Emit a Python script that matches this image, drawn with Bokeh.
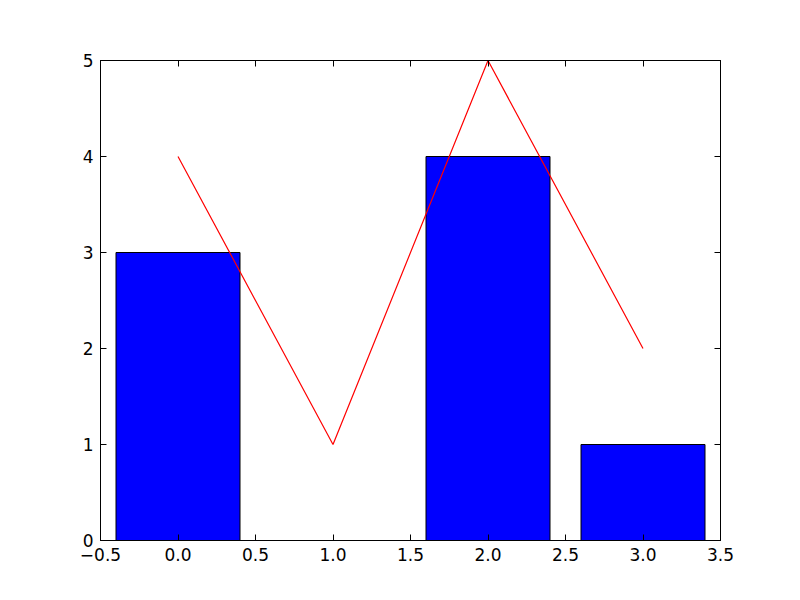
from bokeh.plotting import figure
from bokeh.models import Range1d, LinearAxis, FixedTicker, ColumnDataSource
from bokeh.embed import file_html
from bokeh.resources import INLINE

x_vals = [0, 1, 2, 3]
bar_vals = [3, 0, 4, 1]
line_vals = [4, 1, 5, 2]
x_ticks = [-0.5, 0.0, 0.5, 1.0, 1.5, 2.0, 2.5, 3.0, 3.5]
x_tick_labels = ["\u22120.5", "0.0", "0.5", "1.0", "1.5", "2.0", "2.5", "3.0", "3.5"]
y_ticks = [0, 1, 2, 3, 4, 5]
y_tick_labels = ["0", "1", "2", "3", "4", "5"]

p = figure(width=800, height=600, output_backend="svg", toolbar_location=None,
           x_range=Range1d(-0.5, 3.5), y_range=Range1d(0, 5),
           x_axis_location=None, y_axis_location=None,
           min_border_left=100, min_border_right=80, min_border_top=60, min_border_bottom=60)
p.grid.visible = False
p.outline_line_color = "black"
p.outline_line_width = 1
p.background_fill_color = "white"
p.border_fill_color = "white"

src = ColumnDataSource(dict(x=x_vals, top=bar_vals, y=line_vals))
p.vbar(x="x", top="top", width=0.8, source=src, fill_color="blue", line_color="black", line_width=1)
p.line(x="x", y="y", source=src, line_color="red", line_width=1.2)

FONT = "DejaVu Sans"
FS = "17px"

def style(ax, ticks, labels, show_labels):
    ax.ticker = FixedTicker(ticks=ticks)
    ax.major_label_overrides = {t: l for t, l in zip(ticks, labels)}
    ax.major_tick_in = 6
    ax.major_tick_out = 0
    ax.minor_tick_in = 0
    ax.minor_tick_out = 0
    ax.axis_line_color = "black"
    ax.major_tick_line_color = "black"
    ax.major_label_text_font = FONT
    ax.major_label_text_font_size = FS
    ax.major_label_text_color = "black"
    ax.major_label_standoff = 7
    if not show_labels:
        ax.major_label_text_alpha = 0
        ax.major_label_text_font_size = "1px"

bottom = LinearAxis()
style(bottom, x_ticks, x_tick_labels, True)
p.add_layout(bottom, "below")
top = LinearAxis()
style(top, x_ticks, x_tick_labels, False)
p.add_layout(top, "above")
left = LinearAxis()
style(left, y_ticks, y_tick_labels, True)
p.add_layout(left, "left")
right = LinearAxis()
style(right, y_ticks, y_tick_labels, False)
p.add_layout(right, "right")

open("out.html", "w").write(file_html(p, INLINE))
